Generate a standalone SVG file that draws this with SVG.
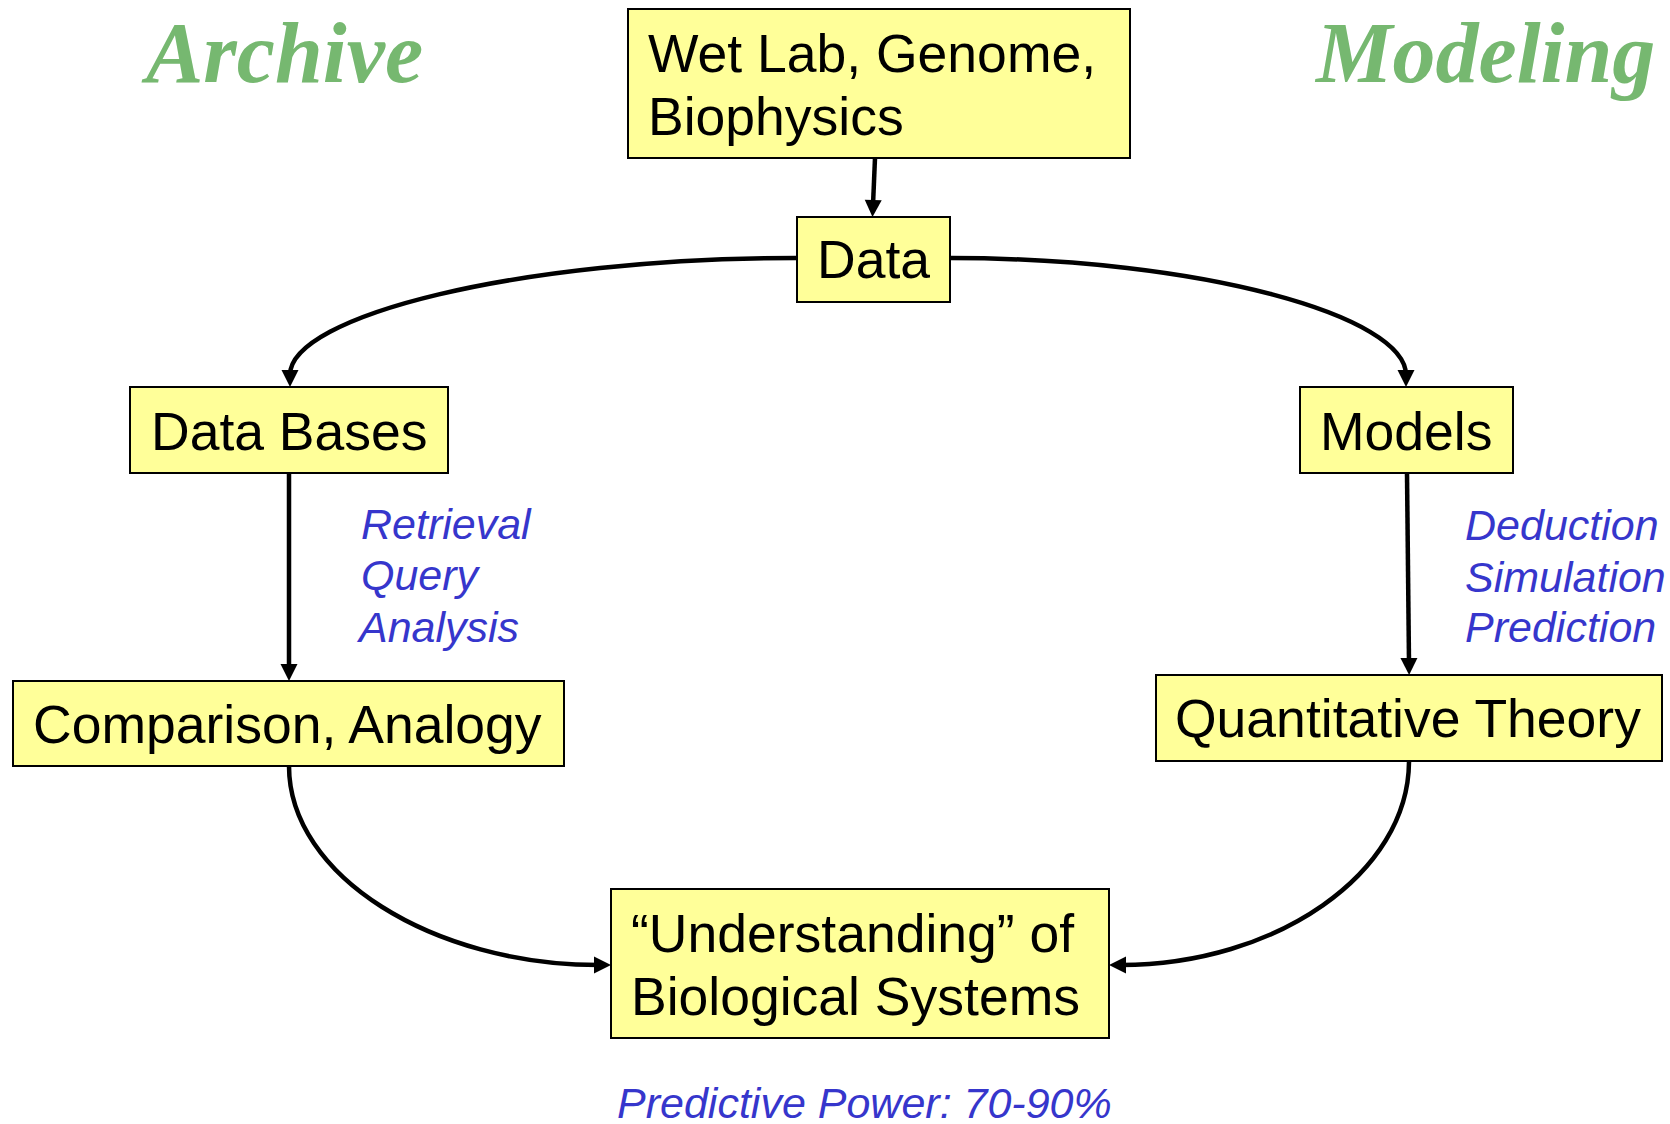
<svg xmlns="http://www.w3.org/2000/svg" width="1670" height="1124" viewBox="0 0 1670 1124">
<style>
.box{fill:#FFFF99;stroke:#000;stroke-width:2}
.t{font-family:"Liberation Sans",Arial,sans-serif;font-size:53.5px;fill:#000}
.b{font-family:"Liberation Sans",Arial,sans-serif;font-size:43px;font-style:italic;fill:#3636CC}
.g{font-family:"Liberation Serif","Times New Roman",serif;font-size:86px;font-style:italic;font-weight:bold;fill:#76B870}
.c{fill:none;stroke:#000;stroke-width:4.5}
</style>
<defs>
<marker id="ah" markerUnits="userSpaceOnUse" viewBox="-1 -10 20 20" markerWidth="20" markerHeight="20" refX="5" refY="0" orient="auto">
<path d="M0,-8.5 L17,0 L0,8.5 z" fill="#000"/>
</marker>
</defs>
<rect width="1670" height="1124" fill="#fff"/>
<text class="g" x="146" y="82">Archive</text>
<text class="g" x="1316" y="82">Modeling</text>
<g id="connectors">
<path class="c" d="M875,158 L873,205" marker-end="url(#ah)"/>
<path class="c" d="M797,258 C518,258 290,316 290,375" marker-end="url(#ah)"/>
<path class="c" d="M950,258 C1201,258 1406,316 1406,375" marker-end="url(#ah)"/>
<path class="c" d="M289,473 L289,669" marker-end="url(#ah)"/>
<path class="c" d="M1407,473 L1409,663" marker-end="url(#ah)"/>
<path class="c" d="M289,766 C289,876 433,965 599,965" marker-end="url(#ah)"/>
<path class="c" d="M1409,761 C1409,874 1275,965 1121,965" marker-end="url(#ah)"/>
</g>
<g id="n-wetlab">
<rect class="box" x="628" y="9" width="502" height="149"/>
<text class="t" x="648" y="72">Wet Lab, Genome,</text>
<text class="t" x="648" y="135">Biophysics</text>
</g>
<g id="n-data">
<rect class="box" x="797" y="217" width="153" height="85"/>
<text class="t" x="817" y="278">Data</text>
</g>
<g id="n-databases">
<rect class="box" x="130" y="387" width="318" height="86"/>
<text class="t" x="151" y="450">Data Bases</text>
</g>
<g id="n-models">
<rect class="box" x="1300" y="387" width="213" height="86"/>
<text class="t" x="1320" y="450">Models</text>
</g>
<g id="n-comparison">
<rect class="box" x="13" y="681" width="551" height="85"/>
<text class="t" x="33" y="743">Comparison, Analogy</text>
</g>
<g id="n-quant">
<rect class="box" x="1156" y="675" width="506" height="86"/>
<text class="t" x="1175" y="737">Quantitative Theory</text>
</g>
<g id="n-understanding">
<rect class="box" x="611" y="889" width="498" height="149"/>
<text class="t" x="631" y="952">“Understanding” of</text>
<text class="t" x="631" y="1015">Biological Systems</text>
</g>
<g id="labels">
<text class="b" x="361" y="539">Retrieval</text>
<text class="b" x="361" y="590">Query</text>
<text class="b" x="359" y="642">Analysis</text>
<text class="b" x="1465" y="540">Deduction</text>
<text class="b" x="1465" y="592">Simulation</text>
<text class="b" x="1465" y="642">Prediction</text>
<text class="b" x="617" y="1118">Predictive Power: 70-90%</text>
</g>
</svg>
